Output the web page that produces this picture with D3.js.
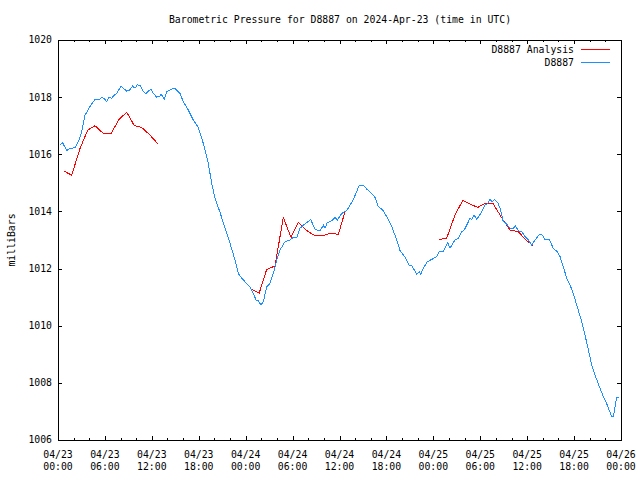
<!DOCTYPE html>
<meta charset="utf-8">
<style>
body { margin: 0; background: #fff; }
text { font-family: "DejaVu Sans Mono", monospace; font-size: 9.8px; fill: #000; }
</style>
<svg width="640" height="480"></svg>
<script src="https://d3js.org/d3.v7.min.js"></script>
<script>
// hours after 2024-04-23 00:00 UTC
var obsHours = [0.26,0.6,1.11,1.53,2.17,2.6,3.03,3.45,4.09,4.73,5.37,5.59,6.01,6.23,6.52,6.87,7.07,7.51,8.06,8.35,
  8.79,9.12,9.55,9.85,10.14,10.49,10.91,11.25,11.55,11.89,12.19,12.62,13.05,13.17,13.6,13.9,14.54,14.96,15.39,15.6,
  16.03,16.66,17.3,17.94,18.58,19.22,19.66,20.08,20.72,21.36,22.0,22.64,23.06,23.49,24.13,24.56,24.98,25.32,25.62,25.96,
  26.26,26.69,27.11,27.54,27.97,28.39,29.03,29.67,30.09,30.53,30.95,31.37,31.81,32.32,32.87,33.51,33.93,34.15,34.44,35.0,
  35.43,35.72,36.16,36.58,36.92,37.34,37.77,38.2,38.53,39.05,39.48,40.12,40.54,40.96,41.53,42.04,42.68,43.32,43.74,44.38,
  44.93,45.24,45.44,45.88,46.21,46.39,46.72,47.23,47.79,48.43,48.76,49.28,49.84,50.13,50.77,51.2,51.63,51.96,52.27,52.69,
  52.91,53.2,53.55,54.06,54.61,54.9,55.25,55.54,55.8,56.23,56.53,56.95,57.3,57.81,58.23,58.49,58.87,59.3,59.73,60.15,
  60.58,61.01,61.56,61.86,62.28,62.83,63.34,63.86,64.2,64.62,65.06,65.48,65.9,66.34,66.98,67.4,67.83,68.26,68.68,69.23,
  69.74,70.25,70.82,71.02,71.24,71.45,71.75];
var obsPressure = [1016.33,1016.4,1016.13,1016.2,1016.23,1016.44,1016.79,1017.37,1017.67,1017.92,1017.93,1018.0,1017.92,1017.84,1018.0,1017.96,1018.04,1018.13,1018.39,1018.31,
  1018.21,1018.23,1018.39,1018.31,1018.43,1018.41,1018.19,1018.13,1018.21,1018.28,1018.13,1018.0,1018.04,1018.11,1017.93,1018.19,1018.28,1018.31,1018.19,1018.13,
  1017.84,1017.55,1017.2,1016.94,1016.38,1015.68,1014.98,1014.46,1013.97,1013.41,1012.88,1012.3,1011.83,1011.66,1011.48,1011.36,1011.13,1010.9,1010.88,1010.72,
  1010.84,1011.36,1011.48,1011.83,1012.3,1012.65,1012.94,1013.0,1013.09,1013.09,1013.41,1013.52,1013.61,1013.72,1013.37,1013.32,1013.52,1013.41,1013.61,1013.67,
  1013.79,1013.7,1013.88,1013.99,1014.03,1014.22,1014.42,1014.69,1014.92,1014.92,1014.78,1014.63,1014.49,1014.17,1014.05,1013.82,1013.47,1013.0,1012.63,1012.4,
  1012.09,1012.12,1012.01,1011.81,1011.89,1011.8,1012.01,1012.24,1012.32,1012.42,1012.61,1012.61,1012.91,1012.71,1013.0,1013.06,1013.29,1013.35,1013.52,1013.76,
  1013.72,1013.88,1013.72,1013.93,1014.22,1014.26,1014.42,1014.34,1014.42,1014.31,1014.11,1013.64,1013.58,1013.41,1013.41,1013.5,1013.32,1013.29,1013.12,1013.0,
  1012.82,1013.0,1013.2,1013.2,1013.02,1013.02,1012.71,1012.59,1012.42,1012.06,1011.66,1011.43,1011.13,1010.72,1010.14,1009.67,1009.15,1008.62,1008.27,1007.87,
  1007.52,1007.22,1006.81,1006.81,1007.17,1007.49,1007.49];

// analysis runs, null marks a gap
var anaHours = [0.77,1.75,2.81,3.8,4.73,5.79,6.78,7.8,8.79,9.76,10.7,11.77,12.83, null,
  24.77,25.74,26.69,27.75,28.81,29.8,30.73,31.72,32.65,33.73,34.79,35.85,36.71, null,
  48.77,49.71,50.77,51.76,52.69,53.68,54.61,55.63,56.87,57.81,58.87,59.85,60.79];
var anaPressure = [1015.41,1015.27,1016.2,1016.85,1017.0,1016.73,1016.73,1017.22,1017.47,1017.0,1016.94,1016.67,1016.35, null,
  1011.27,1011.15,1011.97,1012.09,1013.79,1013.09,1013.62,1013.35,1013.18,1013.14,1013.23,1013.2,1013.99, null,
  1013.02,1013.06,1013.88,1014.38,1014.26,1014.14,1014.28,1014.28,1013.72,1013.35,1013.29,1013.0,1012.8];

var yTicks = [1006,1008,1010,1012,1014,1016,1018,1020];
var seriesNames = ["D8887 Analysis", "D8887"];
var seriesColors = ["#ff0000", "#1e8fff"];

var svg = d3.select("svg"),
    plotL = 58, plotR = 621, plotT = 40, plotB = 440;

var t0 = Date.UTC(2024, 3, 23);
function toDate(h) { return new Date(t0 + h * 3600000); }

var x = d3.scaleUtc().domain([toDate(0), toDate(72)]).range([plotL, plotR]);
var y = d3.scaleLinear().domain([1006, 1020]).range([plotB, plotT]);

var majorX = d3.utcHour.every(6).range(toDate(0), toDate(72.01));

// ticks point inward, minor every 2 hours
[[plotB, d3.axisBottom], [plotT, d3.axisTop]].forEach(function(a) {
  svg.append("g")
    .attr("transform", "translate(0," + a[0] + ")")
    .call(a[1](x).ticks(d3.utcHour.every(2)).tickSize(-2).tickFormat(""))
    .call(g => g.select(".domain").remove());
  svg.append("g")
    .attr("transform", "translate(0," + a[0] + ")")
    .call(a[1](x).tickValues(majorX).tickSize(-4).tickFormat(""))
    .call(g => g.select(".domain").remove());
});

svg.append("g")
  .attr("transform", "translate(" + plotL + ",0)")
  .call(d3.axisLeft(y).tickValues(yTicks).tickSize(-4).tickFormat(""))
  .call(g => g.select(".domain").remove());
svg.append("g")
  .attr("transform", "translate(" + plotR + ",0)")
  .call(d3.axisRight(y).tickValues(yTicks).tickSize(-4).tickFormat(""))
  .call(g => g.select(".domain").remove());

svg.selectAll(".tick line").attr("shape-rendering", "crispEdges");

// x labels, two lines
var fmtDay = d3.utcFormat("%m/%d"), fmtTime = d3.utcFormat("%H:%M");
var xl = svg.append("g").selectAll("text")
  .data(majorX)
  .enter().append("text")
    .attr("text-anchor", "middle")
    .attr("x", d => x(d));
xl.append("tspan").attr("y", 458).text(d => fmtDay(d));
xl.append("tspan").attr("x", d => x(d)).attr("y", 470).text(d => fmtTime(d));

// y labels
svg.append("g").selectAll("text")
  .data(yTicks)
  .enter().append("text")
    .attr("text-anchor", "end")
    .attr("x", 52)
    .attr("y", d => y(d))
    .attr("dy", "0.35em")
    .text(d => d);

svg.append("rect")
  .attr("x", plotL).attr("y", plotT)
  .attr("width", plotR - plotL).attr("height", plotB - plotT)
  .attr("fill", "none").attr("stroke", "#000")
  .attr("shape-rendering", "crispEdges");

var line = d3.line()
  .defined(d => d[0] !== null)
  .x(d => x(toDate(d[0])))
  .y(d => y(d[1]));

var obs = obsHours.map((h, i) => [h, obsPressure[i]]);
var ana = anaHours.map((h, i) => [h, anaPressure[i]]);

svg.append("path")
  .attr("d", line(ana))
  .attr("fill", "none").attr("stroke", seriesColors[0]).attr("stroke-width", 1)
  .attr("shape-rendering", "crispEdges");
svg.append("path")
  .attr("d", line(obs))
  .attr("fill", "none").attr("stroke", seriesColors[1]).attr("stroke-width", 1)
  .attr("shape-rendering", "crispEdges");

// legend
var legend = svg.append("g").selectAll("g")
  .data(seriesNames)
  .enter().append("g")
    .attr("transform", (d, i) => "translate(0," + (49.5 + i * 13) + ")");
legend.append("text")
  .attr("text-anchor", "end")
  .attr("x", 574)
  .attr("dy", "0.35em")
  .text(d => d);
legend.append("line")
  .attr("x1", 581).attr("x2", 610)
  .attr("stroke", (d, i) => seriesColors[i])
  .attr("shape-rendering", "crispEdges");

svg.append("text")
  .attr("text-anchor", "middle")
  .attr("x", 340)
  .attr("y", 23)
  .text("Barometric Pressure for D8887 on 2024-Apr-23 (time in UTC)");

svg.append("text")
  .attr("text-anchor", "middle")
  .attr("transform", "translate(14.5,240) rotate(-90)")
  .text("milliBars");
</script>
